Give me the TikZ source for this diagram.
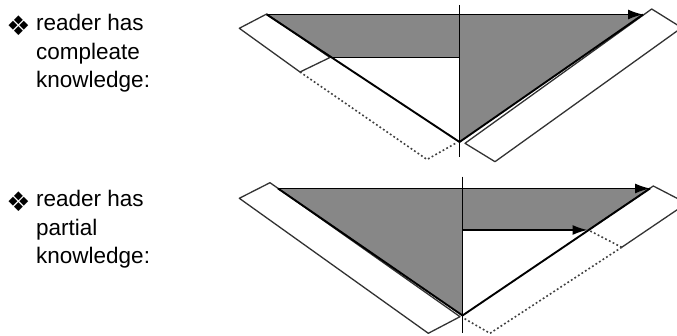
\documentclass[tikz,border=0pt]{standalone}
\usepackage{fontspec}
\setmainfont{Liberation Sans}
\newfontfamily\symfont{DejaVu Sans}
\usetikzlibrary{arrows.meta}
\begin{document}
\begin{tikzpicture}[x=1pt,y=-1pt,
  lbl/.style={anchor=base west, inner sep=0pt, font=\fontsize{22.5}{27}\selectfont},
  bul/.style={anchor=center, inner sep=0pt, font=\symfont\fontsize{27}{30}\selectfont},
  shade/.style={fill=black!47},
  strip/.style={draw=black!80, fill=white, line width=1.3pt, line join=round},
  dots/.style={draw=black!75, line width=1.6pt, dash pattern=on 1.8pt off 2.4pt},
  edge/.style={line width=1.9pt},
  axisline/.style={line width=1.1pt},
  arr/.style={line width=1.5pt, -{Latex[length=15pt,width=10pt]}},
]
\useasboundingbox (0,0) rectangle (677,336);

% ---------- labels ----------
\node[bul] (bu1) at (18.5,25.5) {❖};
\node[lbl] (t1a) at (36,31) {reader has};
\node[lbl] (t1b) at (36,59.5) {compleate};
\node[lbl] (t1c) at (36,88) {knowledge:};

\node[bul] (bu2) at (18.5,201.5) {❖};
\node[lbl] (t2a) at (36,207) {reader has};
\node[lbl] (t2b) at (36,235.5) {partial};
\node[lbl] (t2c) at (36,264) {knowledge:};

% ---------- top diagram ----------
\coordinate (a1) at (266.7,14.5);
\coordinate (a2) at (643,14.5);
\coordinate (o1) at (459.5,142);
\coordinate (v1t) at (459.5,5);
\coordinate (v1b) at (459.5,157);
\coordinate (h1r) at (459.5,57.5);
\coordinate (h1l) at (330,57.5);
\coordinate (l1a) at (266.7,14);
\coordinate (l1b) at (239.3,28.3);
\coordinate (l1c) at (300,72);
\coordinate (l1d) at (330,57.5);
\coordinate (d1a) at (427,159.5);
\coordinate (d1b) at (457,142.5);
\coordinate (r1a) at (651.7,9);
\coordinate (r1b) at (465,143.3);
\coordinate (r1c) at (495,161.7);
\coordinate (r1d) at (681.7,27.7);

\fill[shade] (a1) -- (a2) -- (o1) -- (h1r) -- (h1l) -- cycle;
\draw[strip] (l1a) -- (l1b) -- (l1c) -- (l1d) -- cycle;
\draw[strip] (r1a) -- (r1b) -- (r1c) -- (r1d) -- cycle;
\draw[dots] (l1c) -- (d1a) -- (d1b);
\draw[edge] (a1) -- (o1);
\draw[edge] (o1) -- (a2);
\draw[axisline] (h1l) -- (h1r);
\draw[axisline] (v1t) -- (v1b);
\draw[arr] (a1) -- (a2);

% ---------- bottom diagram ----------
\coordinate (b1) at (278,188.5);
\coordinate (b2) at (650,188.5);
\coordinate (o2) at (462.5,315.5);
\coordinate (v2t) at (462.3,176.7);
\coordinate (v2b) at (462.3,333);
\coordinate (h2l) at (462.3,230);
\coordinate (h2r) at (587.5,230);
\coordinate (l2a) at (270,182.7);
\coordinate (l2b) at (239.3,198.3);
\coordinate (l2c) at (428.3,333.3);
\coordinate (l2d) at (460,316.7);
\coordinate (r2a) at (588.3,230);
\coordinate (r2b) at (653.3,186);
\coordinate (r2c) at (686.7,203.3);
\coordinate (r2d) at (621.7,247.3);
\coordinate (d2a) at (490,333.3);
\coordinate (d2b) at (462.5,317.5);

\fill[shade] (b1) -- (b2) -- (r2a) -- (h2l) -- (o2) -- cycle;
\draw[strip] (l2a) -- (l2b) -- (l2c) -- (l2d) -- cycle;
\fill[white] (r2a) -- (r2b) -- (r2c) -- (r2d) -- cycle;
\draw[strip] (r2a) -- (r2b) -- (r2c) -- (r2d);
\draw[dots] (r2d) -- (r2a);
\draw[dots] (r2d) -- (d2a) -- (d2b);
\draw[edge] (b1) -- (o2);
\draw[edge] (o2) -- (b2);
\draw[axisline] (v2t) -- (v2b);
\draw[arr] (b1) -- (b2);
\draw[arr] (h2l) -- (h2r);
\end{tikzpicture}
\end{document}
